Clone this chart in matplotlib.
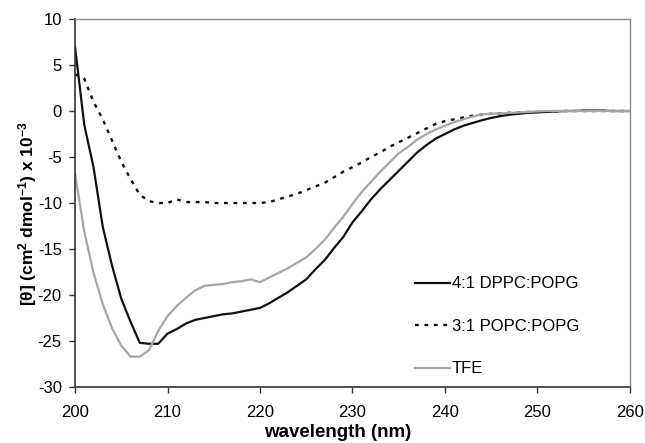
import numpy as np
import matplotlib.pyplot as plt

plt.rcParams['font.family'] = ['Liberation Sans', 'DejaVu Sans']
plt.rcParams['axes.unicode_minus'] = False
plt.rcParams['mathtext.fontset'] = 'custom'
plt.rcParams['mathtext.rm'] = 'Liberation Sans'
plt.rcParams['mathtext.bf'] = 'Liberation Sans:bold'
plt.rcParams['mathtext.default'] = 'bf'

# wavelength (nm), 1 nm steps
wavelength = list(range(200, 261))

# 4:1 DPPC:POPG
dppc = [7.0, -1.5, -6.1, -12.6, -16.8, -20.4, -22.9, -25.2, -25.3, -25.3,
        -24.2, -23.7, -23.1, -22.7, -22.5, -22.3, -22.1, -22.0, -21.8, -21.6,
        -21.4, -20.9, -20.3, -19.7, -19.0, -18.3, -17.2, -16.2, -14.9, -13.7,
        -12.1, -10.9, -9.6, -8.5, -7.5, -6.5, -5.5, -4.5, -3.7, -3.0,
        -2.5, -2.0, -1.6, -1.3, -1.0, -0.75, -0.55, -0.4, -0.3, -0.2,
        -0.15, -0.1, -0.05, 0.0, 0.0, 0.05, 0.05, 0.05, 0.0, 0.0, 0.0]

# 3:1 POPC:POPG
popc = [4.0, 3.5, 1.0, -0.9, -3.2, -5.5, -7.4, -9.1, -9.8, -10.0,
        -10.0, -9.6, -9.9, -9.9, -9.9, -10.0, -10.0, -10.0, -10.0, -10.0,
        -10.0, -9.9, -9.6, -9.3, -9.0, -8.6, -8.2, -7.8, -7.2, -6.6,
        -6.1, -5.6, -5.0, -4.5, -3.9, -3.4, -2.9, -2.4, -1.9, -1.4,
        -1.1, -0.9, -0.7, -0.5, -0.4, -0.3, -0.25, -0.2, -0.15, -0.1,
        -0.1, -0.05, -0.05, 0.0, 0.0, 0.0, 0.0, 0.0, 0.0, 0.0, 0.0]

# TFE
tfe = [-6.8, -13.1, -17.6, -21.0, -23.6, -25.5, -26.7, -26.7, -26.0, -23.9,
       -22.3, -21.2, -20.3, -19.5, -19.0, -18.9, -18.8, -18.6, -18.5, -18.3,
       -18.6, -18.1, -17.6, -17.1, -16.5, -15.9, -15.0, -14.0, -12.7, -11.5,
       -10.1, -8.8, -7.7, -6.6, -5.6, -4.6, -3.9, -3.1, -2.5, -2.0,
       -1.6, -1.2, -0.9, -0.6, -0.35, -0.3, -0.25, -0.2, -0.15, -0.1,
       -0.05, 0.0, 0.0, 0.0, 0.0, 0.0, 0.0, 0.0, 0.0, 0.0, 0.0]

fig = plt.figure(figsize=(6.45, 4.43), dpi=100)
ax = fig.add_axes([0.1163, 0.1264, 0.8604, 0.8307])

ax.plot(wavelength, dppc, color='#111111', lw=1.6, label='4:1 DPPC:POPG')
ax.plot(wavelength, popc, color='#111111', lw=1.7, linestyle=(0, (1.6, 2.4)),
        label='3:1 POPC:POPG')
ax.plot(wavelength, tfe, color='#a6a6a6', lw=1.6, label='TFE')

ax.set_xlim(200, 260)
ax.set_ylim(-30, 10)
ax.set_xticks(range(200, 261, 10))
ax.set_yticks(range(-30, 11, 5))
ax.tick_params(labelsize=12, length=4.5, width=1, color='#333333')
ax.tick_params(axis='x', pad=8.5)
ax.tick_params(axis='y', pad=5)

for s in ['top', 'right']:
    ax.spines[s].set_color('#8c8c8c')
    ax.spines[s].set_linewidth(1)
for s in ['left', 'bottom']:
    ax.spines[s].set_color('#333333')
    ax.spines[s].set_linewidth(1.2)

ax.set_xlabel('wavelength (nm)', fontsize=13.5, fontweight='bold')
ax.xaxis.set_label_coords(0.473, -0.10)
ax.set_ylabel('[θ] (cm$^{2}$ dmol$^{-1}$) x 10$^{-3}$', fontsize=12.5,
              fontweight='bold')
ax.yaxis.set_label_coords(-0.065, 0.47)

ax.legend(loc='upper left', bbox_to_anchor=(0.62, 0.41), frameon=False,
          fontsize=12, handlelength=2.1, handletextpad=0.1, labelspacing=1.65,
          bbox_transform=fig.transFigure)

fig.savefig('out.png', dpi=100)
